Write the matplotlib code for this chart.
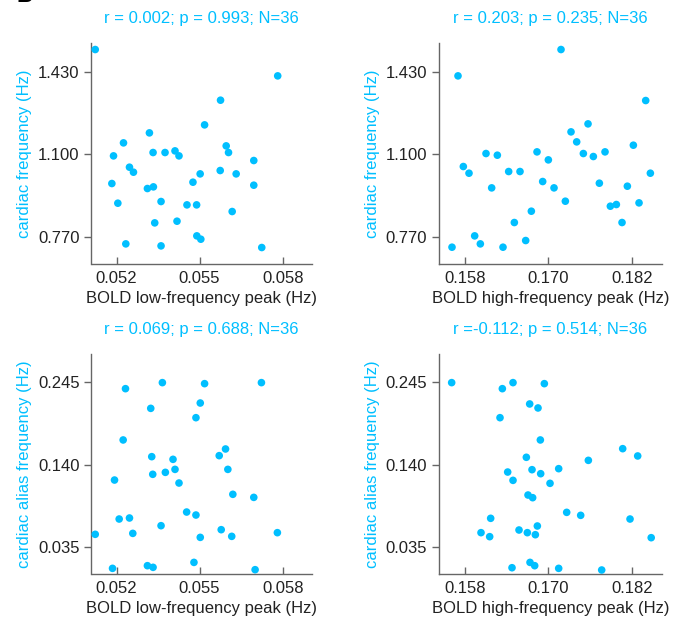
import matplotlib.pyplot as plt
import numpy as np

plt.rcParams['font.family'] = ['Liberation Sans', 'DejaVu Sans']

# cardiac frequency vs BOLD low-frequency peak
lf_x1 = [0.051232, 0.05782, 0.055756, 0.05518, 0.053188, 0.052252, 0.051892, 0.05332, 0.053752,
         0.054112, 0.054256, 0.05596, 0.056044, 0.056956, 0.052468, 0.052612, 0.051832, 0.053116,
         0.053332, 0.05502, 0.055744, 0.05632, 0.05476, 0.056956, 0.052048, 0.053608, 0.054544,
         0.054892, 0.056176, 0.05338, 0.054184, 0.0549, 0.055044, 0.052336, 0.053608, 0.057244]
card_y1 = [1.5187, 1.4133, 1.316, 1.2173, 1.1853, 1.1453, 1.0933, 1.1067, 1.1067,
           1.1133, 1.0933, 1.1333, 1.1067, 1.0747, 1.048, 1.028, 0.9827, 0.9627,
           0.9693, 1.0213, 1.0347, 1.0213, 0.988, 0.976, 0.904, 0.9107, 0.8973,
           0.8973, 0.8707, 0.8253, 0.832, 0.7733, 0.76, 0.7413, 0.7333, 0.7267]

# cardiac frequency vs BOLD high-frequency peak
hf_x2 = [0.171824, 0.156992, 0.184016, 0.175712, 0.173264, 0.17408, 0.18224, 0.161024, 0.162656,
         0.168368, 0.17, 0.17504, 0.17648, 0.17816, 0.15776, 0.158576, 0.164288, 0.16592,
         0.16184, 0.169184, 0.170816, 0.177344, 0.181376, 0.184688, 0.172448, 0.178928, 0.179792,
         0.183056, 0.167552, 0.165104, 0.180608, 0.159392, 0.160208, 0.166736, 0.156128, 0.163472]
card_y2 = [1.5187, 1.4133, 1.3147, 1.2213, 1.1893, 1.1493, 1.136, 1.1027, 1.096,
           1.1093, 1.0773, 1.1027, 1.0907, 1.1093, 1.0507, 1.024, 1.0307, 1.0307,
           0.9653, 0.9907, 0.9653, 0.984, 0.972, 1.024, 0.912, 0.892, 0.8987,
           0.9053, 0.872, 0.8267, 0.8267, 0.7733, 0.7413, 0.7547, 0.728, 0.728]

# cardiac alias frequency vs BOLD low-frequency peak
lf_x3 = [0.052324, 0.053656, 0.05518, 0.057232, 0.053236, 0.055024, 0.054868, 0.05224, 0.053272,
         0.05404, 0.055708, 0.055936, 0.054112, 0.05602, 0.053308, 0.053764, 0.051928, 0.054256,
         0.0562, 0.056956, 0.054532, 0.054868, 0.052096, 0.052468, 0.053608, 0.051232, 0.052588,
         0.05578, 0.055024, 0.05616, 0.057808, 0.054796, 0.053116, 0.05332, 0.051856, 0.057004]
alias_y3 = [0.2369, 0.2446, 0.2433, 0.2446, 0.2118, 0.2186, 0.1999, 0.1715, 0.1502,
            0.1468, 0.1515, 0.16, 0.134, 0.134, 0.1277, 0.1302, 0.1204, 0.1166,
            0.1022, 0.0983, 0.0796, 0.0758, 0.0707, 0.072, 0.0622, 0.0512, 0.0524,
            0.0571, 0.0473, 0.0486, 0.0533, 0.0154, 0.0112, 0.0091, 0.0078, 0.0061]

# cardiac alias frequency vs BOLD high-frequency peak
hf_x4 = [0.15608, 0.163376, 0.164912, 0.169424, 0.167312, 0.168512, 0.16304, 0.168848, 0.180704,
         0.182864, 0.166832, 0.17576, 0.164144, 0.167648, 0.168896, 0.171488, 0.164912, 0.17024,
         0.167072, 0.16774, 0.17264, 0.174656, 0.161696, 0.18176, 0.160304, 0.161552, 0.165776,
         0.166976, 0.168416, 0.168128, 0.184808, 0.16736, 0.168032, 0.164768, 0.171488, 0.17768]
alias_y4 = [0.2446, 0.2369, 0.2446, 0.2433, 0.2174, 0.2123, 0.1999, 0.1715, 0.1604,
            0.1511, 0.1494, 0.1455, 0.1306, 0.1336, 0.1285, 0.1349, 0.12, 0.1162,
            0.1013, 0.0979, 0.0792, 0.0754, 0.0716, 0.0707, 0.0533, 0.0482, 0.0567,
            0.0533, 0.0618, 0.0507, 0.0469, 0.0154, 0.0112, 0.0086, 0.0078, 0.0057]

stats = ['r = 0.002; p = 0.993; N=36', 'r = 0.203; p = 0.235; N=36',
         'r = 0.069; p = 0.688; N=36', 'r =-0.112; p = 0.514; N=36']

lf_ticks = [0.052, 0.055, 0.058]
hf_ticks = [0.158, 0.170, 0.182]
card_ticks = [0.770, 1.100, 1.430]
alias_ticks = [0.035, 0.140, 0.245]

W, H = 685, 619
dotc = '#00bfff'
spinec = '#666666'

def px_axes(l, t, r, b):
    return [l / W, 1 - b / H, (r - l) / W, (b - t) / H]

panels = [
    (px_axes(91.5, 43, 312, 264), lf_x1, card_y1, lf_ticks, card_ticks,
     (0.051097, 0.059058), (0.6608, 1.5448), 'BOLD low-frequency peak (Hz)', 'cardiac frequency (Hz)'),
    (px_axes(439, 43, 661.5, 264), hf_x2, card_y2, hf_ticks, card_ticks,
     (0.154256, 0.186291), (0.6608, 1.5448), 'BOLD high-frequency peak (Hz)', 'cardiac frequency (Hz)'),
    (px_axes(91.5, 354, 312, 574), lf_x3, alias_y3, lf_ticks, alias_ticks,
     (0.051097, 0.059058), (0.0006, 0.2811), 'BOLD low-frequency peak (Hz)', 'cardiac alias frequency (Hz)'),
    (px_axes(439, 354, 661.5, 574), hf_x4, alias_y4, hf_ticks, alias_ticks,
     (0.154256, 0.186291), (0.0006, 0.2811), 'BOLD high-frequency peak (Hz)', 'cardiac alias frequency (Hz)'),
]

fig = plt.figure(figsize=(6.85, 6.19), dpi=100)

for i, (rect, x, y, xt, yt, xl, yl, xlab, ylab) in enumerate(panels):
    ax = fig.add_axes(rect)
    ax.scatter(x, y, s=30, color=dotc, edgecolors='none', zorder=3, clip_on=False)
    ax.set_xlim(*xl)
    ax.set_ylim(*yl)
    ax.set_xticks(xt)
    ax.set_xticklabels(['%.3f' % v for v in xt])
    ax.set_yticks(yt)
    ax.set_yticklabels(['%.3f' % v for v in yt])
    for s in ['top', 'right']:
        ax.spines[s].set_visible(False)
    for s in ['left', 'bottom']:
        ax.spines[s].set_color(spinec)
        ax.spines[s].set_linewidth(1.0)
    ax.tick_params(axis='x', direction='in', length=5, width=1, color=spinec,
                   labelsize=12, labelcolor='#222222', pad=5)
    ax.tick_params(axis='y', direction='out', length=5, width=1, color=spinec,
                   labelsize=12, labelcolor='#222222', pad=3.5)
    w_px = rect[2] * W
    h_px = rect[3] * H
    ax.text(0.5, 1 + 25 / h_px, stats[i], transform=ax.transAxes, ha='center', va='center',
            color=dotc, fontsize=12)
    ax.text(0.5, -35 / h_px, xlab, transform=ax.transAxes, ha='center', va='center',
            color='#222222', fontsize=12)
    ax.text(-66.5 / w_px, 0.5, ylab, transform=ax.transAxes, ha='center', va='center',
            rotation=90, color=dotc, fontsize=12)

# panel letter at the top edge
fig.text(17 / W, 1 - 2.5 / H, 'B', ha='left', va='baseline', fontsize=16,
         fontweight='bold', color='black')

fig.savefig('out.png', dpi=100)
